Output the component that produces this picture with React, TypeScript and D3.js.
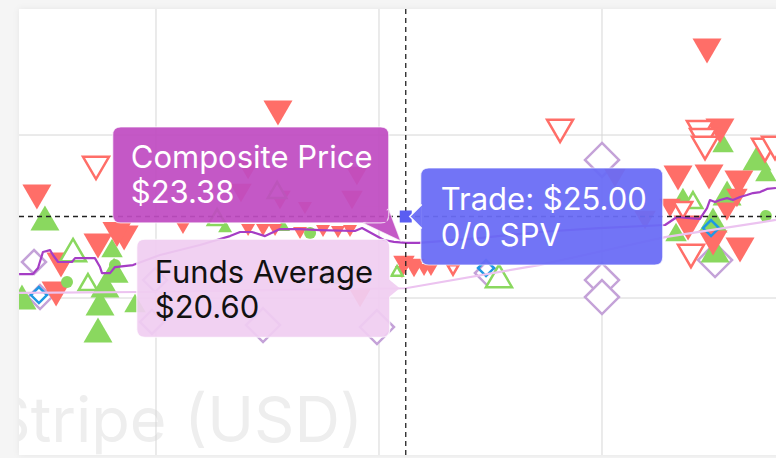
import React from "react";
import * as d3 from "d3";

type Pt = [number, number, number]; // [date as fractional year, price in USD, volume tier]

const gridYears = [2021, 2022, 2023];
const gridPrices = [20, 30];

const asksFirm: Pt[] = [
  [2020.466, 26.2, 3], [2020.574, 22.02, 3], [2020.552, 20.25, 3], [2020.74, 23.19, 3],
  [2020.857, 23.68, 3], [2020.825, 23.9, 3], [2021.121, 24.29, 1], [2021.547, 31.35, 3], [2021.413, 27.85, 2],
  [2021.556, 26.01, 2], [2021.901, 27.48, 2], [2021.879, 26.01, 2], [2021.381, 26.44, 2],
  [2021.668, 25.52, 1], [2021.413, 24.17, 1], [2021.48, 24.17, 1], [2021.534, 24.17, 1],
  [2021.646, 23.99, 1], [2021.749, 24.11, 1], [2021.816, 24.05, 1], [2021.87, 24.11, 1],
  [2022.112, 22.02, 2], [2022.157, 21.84, 2], [2022.103, 21.6, 1], [2022.202, 21.72, 1],
  [2022.233, 21.72, 1], [2021.915, 20.0, 2], [2023.471, 35.15, 3], [2023.529, 30.25, 3],
  [2023.341, 27.36, 3], [2023.48, 27.42, 3], [2023.614, 27.06, 3], [2023.605, 26.13, 2],
  [2023.305, 25.52, 2], [2023.386, 24.29, 3], [2023.498, 23.37, 3], [2023.619, 22.94, 3],
  [2023.058, 27.36, 2], [2023.193, 24.79, 2], [2023.56, 25.3, 2],
];

const asksIndicative: Pt[] = [
  [2020.731, 27.98, 3], [2022.812, 30.25, 3], [2023.439, 30.18, 3], [2023.453, 29.69, 3],
  [2023.462, 29.2, 3], [2023.731, 29.08, 3], [2023.363, 25.4, 2], [2023.399, 22.58, 3],
  [2022.332, 21.72, 1], [2023.776, 29.2, 3],
];

const bidsFirm: Pt[] = [
  [2020.502, 24.91, 3], [2020.399, 20.06, 3], [2020.803, 23.07, 2], [2020.771, 20.8, 3],
  [2020.749, 19.69, 3], [2020.74, 18.04, 3], [2020.906, 19.69, 2], [2020.812, 21.7, 3],
  [2021.57, 24.48, 1], [2021.31, 24.4, 1],
  [2023.543, 29.51, 2], [2023.695, 28.59, 3], [2023.735, 27.73, 2], [2023.363, 26.2, 2],
  [2023.561, 26.44, 3], [2023.498, 24.79, 3], [2023.507, 22.94, 3], [2023.332, 24.05, 2],
  [2021.78, 21.41, 2],
];

const bidsIndicative: Pt[] = [
  [2020.628, 22.94, 3], [2020.695, 20.98, 2], [2023.408, 26.01, 2], [2022.538, 21.35, 3],
  [2022.081, 21.66, 1], [2021.274, 24.97, 2], [2021.543, 26.63, 2],
];

const fundMarks: Pt[] = [
  [2020.453, 22.21, 2], [2020.48, 20.06, 2], [2020.996, 21.1, 2], [2020.982, 18.53, 2],
  [2021.48, 18.34, 3], [2021.991, 18.22, 3], [2022.484, 21.53, 2], [2023.0, 28.47, 3],
  [2023.0, 21.1, 3], [2023.0, 20.06, 3], [2023.507, 22.33, 3],
];

const tenderMarks: Pt[] = [
  [2020.475, 20.18, 1], [2022.48, 21.84, 1], [2023.489, 24.29, 1],
];

const closedTrades: [number, number][] = [
  [2020.601, 20.98], [2020.816, 22.02], [2021.691, 23.99], [2023.735, 25.03],
];

const compositePrice: [number, number][] = [
  [2020.386, 21.47], [2020.448, 21.47], [2020.471, 21.84], [2020.493, 22.82], [2020.525, 22.94],
  [2020.538, 22.64], [2020.561, 22.21], [2020.623, 22.21], [2020.637, 22.45], [2020.726, 22.45],
  [2020.749, 21.9], [2020.758, 21.53], [2020.794, 21.53], [2020.816, 21.9], [2020.897, 22.02],
  [2021.018, 22.64], [2021.197, 23.25], [2021.332, 23.8], [2021.377, 24.05], [2021.43, 24.05],
  [2021.489, 23.8], [2021.556, 24.23], [2021.646, 24.23], [2021.735, 24.17], [2021.892, 24.11],
  [2021.924, 24.29], [2022.022, 23.56], [2022.067, 23.44], [2022.12, 23.38], [2022.179, 23.38],
  [2022.448, 23.68], [2022.717, 24.05], [2022.987, 24.29], [2023.283, 24.48], [2023.336, 24.97],
  [2023.381, 24.91], [2023.439, 24.85], [2023.471, 25.52], [2023.484, 26.01], [2023.507, 25.89],
  [2023.529, 26.01], [2023.561, 26.13], [2023.587, 26.01], [2023.619, 26.2], [2023.65, 26.32],
  [2023.677, 26.44], [2023.709, 26.5], [2023.74, 26.69], [2023.78, 26.75],
];

const fundsAverage: [number, number][] = [
  [2020.386, 20.31], [2020.928, 20.37], [2022.12, 20.6], [2022.717, 22.02], [2023.283, 23.74], [2023.78, 24.79],
];

const hoverDate = 2022.12;
const hoverTrade = 25.0;
const hoverComposite = 23.38;
const hoverFunds = 20.6;
const hoverSpv = "0/0 SPV";
const watermark = "Stripe (USD)";

const W = 776;
const H = 458;
const FONT = "Inter, 'Open Sans', sans-serif";

const RED = "#ff6e68";
const GREEN = "#8ad85f";
const LAVENDER = "#c4a2d8";
const BLUE = "#1f98e3";

function triPath(cx: number, cy: number, w: number, up: boolean) {
  const h = w * 0.86;
  return up
    ? `M${cx},${cy - h / 2}L${cx + w / 2},${cy + h / 2}L${cx - w / 2},${cy + h / 2}Z`
    : `M${cx - w / 2},${cy - h / 2}L${cx + w / 2},${cy - h / 2}L${cx},${cy + h / 2}Z`;
}
function diamondPath(cx: number, cy: number, d: number) {
  return `M${cx},${cy - d / 2}L${cx + d / 2},${cy}L${cx},${cy + d / 2}L${cx - d / 2},${cy}Z`;
}
function roundRect(x0: number, y0: number, x1: number, y1: number, r: number) {
  return `M${x0 + r},${y0}H${x1 - r}Q${x1},${y0} ${x1},${y0 + r}V${y1 - r}Q${x1},${y1} ${x1 - r},${y1}H${x0 + r}Q${x0},${y1} ${x0},${y1 - r}V${y0 + r}Q${x0},${y0} ${x0 + r},${y0}Z`;
}

export default function App() {
  const plot = { left: 19, top: 9, right: 776, bottom: 455 };
  const x = d3.scaleLinear().domain([2020.3857, 2023.7803]).range([plot.left, plot.right]);
  const y = d3.scaleLinear().domain([10.37, 37.73]).range([plot.bottom, plot.top]);
  const triW = d3.scaleLinear().domain([1, 3]).range([14, 29]);
  const diaD = d3.scaleLinear().domain([1, 3]).range([16, 36]);

  const line = d3.line<[number, number]>().x((d) => x(d[0])).y((d) => y(d[1]));

  const cx = x(hoverDate);
  const tY = y(hoverTrade);
  const cY = y(hoverComposite);
  const fY = y(hoverFunds);

  const compBox = { x0: cx - 293, x1: cx - 17, y0: cY - 116, y1: cY - 20 };
  const fundBox = { x0: cx - 269, x1: cx - 16, y0: fY - 49, y1: fY + 49 };
  const tradeBox = { x0: cx + 15, x1: cx + 257, y0: tY - 48.5, y1: tY + 48.5 };
  const FS = 31;

  return (
    <div style={{ position: "absolute", left: 0, top: 0, width: W, height: H }}>
      <svg width={W} height={H} style={{ display: "block", fontFamily: FONT }}>
        <defs>
          <clipPath id="plotClip">
            <rect x={plot.left} y={plot.top} width={plot.right - plot.left} height={plot.bottom - plot.top} />
          </clipPath>
          <filter id="cardShadow" x="-5%" y="-5%" width="110%" height="110%">
            <feDropShadow dx="0" dy="0" stdDeviation="3" floodColor="#000" floodOpacity="0.06" />
          </filter>
        </defs>
        <rect x={0} y={0} width={W} height={H} fill="#f5f5f5" />
        <rect x={plot.left} y={plot.top} width={plot.right - plot.left + 10} height={plot.bottom - plot.top} fill="#fff" filter="url(#cardShadow)" />
        <g clipPath="url(#plotClip)">
          <text x={363} y={442} textAnchor="end" fontSize={63} fill="#eeeeee" fontFamily={FONT}>
            {watermark}
          </text>
          {gridYears.map((g) => (
            <line key={"gx" + g} x1={x(g)} x2={x(g)} y1={plot.top} y2={plot.bottom} stroke="#d6d6d6" strokeWidth={1} />
          ))}
          {gridPrices.map((g) => (
            <line key={"gy" + g} x1={plot.left} x2={plot.right} y1={y(g)} y2={y(g)} stroke="#d6d6d6" strokeWidth={1} />
          ))}

          {fundMarks.map((d, i) => (
            <path key={"fm" + i} d={diamondPath(x(d[0]), y(d[1]), diaD(d[2]) - 2)} fill="#fff" stroke={LAVENDER} strokeWidth={2.5} />
          ))}
          {bidsFirm.map((d, i) => (
            <path key={"bf" + i} d={triPath(x(d[0]), y(d[1]), triW(d[2]), true)} fill={GREEN} />
          ))}
          {asksFirm.map((d, i) => (
            <path key={"af" + i} d={triPath(x(d[0]), y(d[1]), triW(d[2]), false)} fill={RED} />
          ))}
          {bidsIndicative.map((d, i) => (
            <path key={"bi" + i} d={triPath(x(d[0]), y(d[1]), triW(d[2]) - 3, true)} fill="#fff" stroke={GREEN} strokeWidth={2.5} />
          ))}
          {asksIndicative.map((d, i) => (
            <path key={"ai" + i} d={triPath(x(d[0]), y(d[1]), triW(d[2]) - 3, false)} fill="#fff" stroke={RED} strokeWidth={2.5} />
          ))}
          {tenderMarks.map((d, i) => (
            <path key={"tm" + i} d={diamondPath(x(d[0]), y(d[1]), diaD(d[2]))} fill="none" stroke={BLUE} strokeWidth={2.5} />
          ))}
          {closedTrades.map((d, i) => (
            <circle key={"ct" + i} cx={x(d[0])} cy={y(d[1])} r={6} fill={GREEN} />
          ))}

          <path d={line(fundsAverage) || ""} fill="none" stroke="#ecc3f0" strokeWidth={2.2} />
          <path d={line(compositePrice) || ""} fill="none" stroke="#a53dc5" strokeWidth={2.2} strokeLinejoin="round" />

          <line x1={cx} x2={cx} y1={plot.top} y2={plot.bottom} stroke="#222" strokeWidth={1.3} strokeDasharray="5,4" />
          <line x1={plot.left} x2={plot.right} y1={tY} y2={tY} stroke="#222" strokeWidth={1.3} strokeDasharray="5,4" />

          <rect x={cx - 6} y={tY - 6} width={12} height={12} fill="#5a5df2" />

          {/* Composite tooltip */}
          <g opacity={0.93}>
            <path
              d={`${roundRect(compBox.x0, compBox.y0, compBox.x1, compBox.y1, 8)}M${compBox.x1 - 26},${compBox.y1}L${compBox.x1},${compBox.y1 - 14}L${cx - 5},${cY - 2}Z`}
              fill="#c04cc2"
              stroke="#fff"
              strokeOpacity={0.7}
              strokeWidth={1.2}
            />
            <rect x={compBox.x1 - 30} y={compBox.y1 - 16} width={28} height={15} fill="#c04cc2" />
          </g>
          <text x={compBox.x0 + 18} y={compBox.y0 + 41} fontSize={FS} fill="#fff">Composite Price</text>
          <text x={compBox.x0 + 18} y={compBox.y0 + 76} fontSize={FS} fill="#fff">{`$${hoverComposite.toFixed(2)}`}</text>

          {/* Funds tooltip */}
          <g opacity={0.93}>
            <path
              d={`${roundRect(fundBox.x0, fundBox.y0, fundBox.x1, fundBox.y1, 8)}`}
              fill="#f1cef2"
              stroke="#fff"
              strokeOpacity={0.8}
              strokeWidth={1.2}
            />
            <path d={`M${fundBox.x1 - 1},${fY - 9}L${cx - 6},${fY}L${fundBox.x1 - 1},${fY + 9}Z`} fill="#f1cef2" />
          </g>
          <text x={fundBox.x0 + 18} y={fundBox.y0 + 44} fontSize={FS} fill="#111">Funds Average</text>
          <text x={fundBox.x0 + 18} y={fundBox.y0 + 79} fontSize={FS} fill="#111">{`$${hoverFunds.toFixed(2)}`}</text>

          {/* Trade tooltip */}
          <g opacity={0.94}>
            <path
              d={`${roundRect(tradeBox.x0, tradeBox.y0, tradeBox.x1, tradeBox.y1, 8)}`}
              fill="#6a6cf6"
              stroke="#fff"
              strokeOpacity={0.7}
              strokeWidth={1.2}
            />
            <path
              d={`M${tradeBox.x0 + 1},${tY - 12}L${cx + 4},${tY}L${tradeBox.x0 + 1},${tY + 12}`}
              fill="#6a6cf6"
              stroke="#fff"
              strokeWidth={1.5}
            />
          </g>
          <text x={tradeBox.x0 + 20} y={tradeBox.y0 + 42} fontSize={FS} fill="#fff">{`Trade: $${hoverTrade.toFixed(2)}`}</text>
          <text x={tradeBox.x0 + 20} y={tradeBox.y0 + 78} fontSize={FS} fill="#fff">{hoverSpv}</text>
        </g>
      </svg>
    </div>
  );
}
